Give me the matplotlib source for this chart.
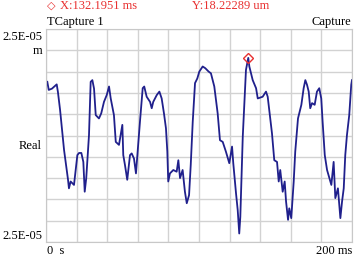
import matplotlib
matplotlib.use('Agg')
import matplotlib.pyplot as plt
import numpy as np

## Trace data (time in ms, displacement in um)
t_ms = [0.85, 1.8, 3.9, 7.0, 7.8, 9.2, 10.5, 11.8, 13.1, 14.4, 15.0, 16.1, 18.3,
        20.5, 21.6, 23.1, 24.4, 25.3, 26.3, 28.1, 29.2, 30.3, 31.4, 32.5, 34.6,
        36.1, 37.9, 39.7, 41.2, 42.3, 44.4, 45.6, 47.7, 49.9, 50.5, 51.6, 53.1,
        54.9, 56.0, 57.5, 58.8, 59.7, 61.4, 63.2, 64.2, 65.8, 68.0, 69.1, 70.1,
        72.4, 74.1, 75.6, 77.1, 78.4, 79.3, 79.9, 81.0, 83.2, 85.4, 86.5, 87.6,
        89.3, 90.8, 92.0, 93.5, 94.6, 95.9, 97.4, 98.9, 100.2, 102.4, 104.1,
        106.3, 107.8, 110.0, 112.2, 113.7, 115.5, 117.6, 119.8, 121.6, 122.4,
        124.2, 125.3, 126.3, 127.0, 128.6, 130.7, 132.2, 132.9, 135.1, 137.3,
        138.4, 141.6, 143.8, 144.9, 146.4, 147.7, 149.2, 151.0, 152.1, 153.1,
        154.7, 156.0, 156.9, 158.2, 159.0, 160.3, 161.9, 162.9, 164.7, 166.9,
        168.4, 169.5, 170.6, 171.7, 172.7, 173.9, 175.6, 177.1, 178.6, 179.9,
        180.8, 182.2, 183.7, 185.2, 186.5, 188.0, 189.1, 190.8, 192.4, 193.5,
        194.6, 195.6, 196.7, 198.2, 199.5, 200.0]
y_um = [12.6, 10.7, 11.0, 12.0, 10.2, 6.0, 1.3, -3.4, -6.9, -10.4, -12.4, -10.8, -11.6,
        -4.6, -4.1, -4.1, -6.2, -13.2, -10.0, 0.1, 12.6, 13.0, 11.0, 4.8, 4.0,
        5.2, 7.9, 9.5, 11.5, 8.7, 4.8, -1.5, -2.2, 2.5, -4.6, -6.9, -10.4,
        -4.6, -4.2, -5.4, -8.9, -4.6, 3.2, 11.1, 11.5, 9.1, 7.9, 6.4, 7.9,
        9.5, 10.3, 8.7, 5.2, 1.7, -3.8, -10.8, -8.9, -8.1, -8.5, -5.8, -10.0,
        -8.1, -13.2, -15.9, -14.0, -6.9, 3.2, 12.3, 13.4, 15.0, 16.2, 15.8,
        15.0, 14.6, 11.5, 5.2, -1.1, -1.5, -3.8, -6.5, -2.6, -6.5,
        -13.6, -17.5, -23.0, -19.1, -0.3, 15.4, 18.22, 16.2, 13.0, 11.1,
        8.7, 9.1, 10.3, 9.1, 4.4, 0.5, -5.8, -6.2, -10.8, -8.1,
        -13.2, -10.8, -15.5, -19.8, -17.1, -19.4, -10.8, -3.8, 4.0, 7.2,
        11.1, 13.0, 11.9, 10.3, 6.4, 7.6, 7.2, 10.3, 11.1, 8.7,
        3.2, -4.6, -8.1, -10.0, -11.6, -6.2, -14.7, -12.4, -19.4, -15.5,
        -12.4, -4.6, 0.1, 4.8, 11.9, 13.0]

cursor_x = 132.1951
cursor_y = 18.22289

fig = plt.figure(figsize=(3.55, 2.56), dpi=100)
ax = fig.add_axes([46/355., 14/256., 306/355., 213/256.])

ax.plot(t_ms, y_um, color='#20208c', lw=1.3)
ax.plot([cursor_x], [cursor_y], marker='D', ms=5, mfc='none', mec='#e83030', mew=1.0)

ax.set_xlim(0, 200)
ax.set_ylim(-25, 25)
ax.set_xticks(np.linspace(0, 200, 11))
ax.set_yticks(np.linspace(-25, 25, 11))
ax.tick_params(length=0, labelbottom=False, labelleft=False)
ax.grid(True, color='#d2d2d2', lw=1.0)
for s in ax.spines.values():
    s.set_color('#c8c8c8')

## Labels around the plot
font = dict(family='Liberation Serif', fontsize=9)
fig.text(51/355., 1 - 6/256., u'\u25c7', color='#e83030', ha='center', va='center', family='DejaVu Sans', fontsize=8)
fig.text(60/355., 1 - 6/256., 'X:132.1951 ms', color='#e83030', ha='left', va='center', **font)
fig.text(192/355., 1 - 6/256., 'Y:18.22289 um', color='#e83030', ha='left', va='center', **font)
fig.text(47/355., 1 - 22.5/256., 'TCapture 1', ha='left', va='center', **font)
fig.text(351/355., 1 - 22.5/256., 'Capture', ha='right', va='center', **font)
fig.text(42/355., 1 - 36.5/256., '2.5E-05', ha='right', va='center', **font)
fig.text(42/355., 1 - 51/256., 'm', ha='right', va='center', **font)
fig.text(42/355., 1 - 146/256., 'Real', ha='right', va='center', **font)
fig.text(42/355., 1 - 236/256., '2.5E-05', ha='right', va='center', **font)
fig.text(47/355., 1 - 251/256., '0  s', ha='left', va='center', **font)
fig.text(352/355., 1 - 251/256., '200 ms', ha='right', va='center', **font)

plt.savefig('out.png', dpi=100)
